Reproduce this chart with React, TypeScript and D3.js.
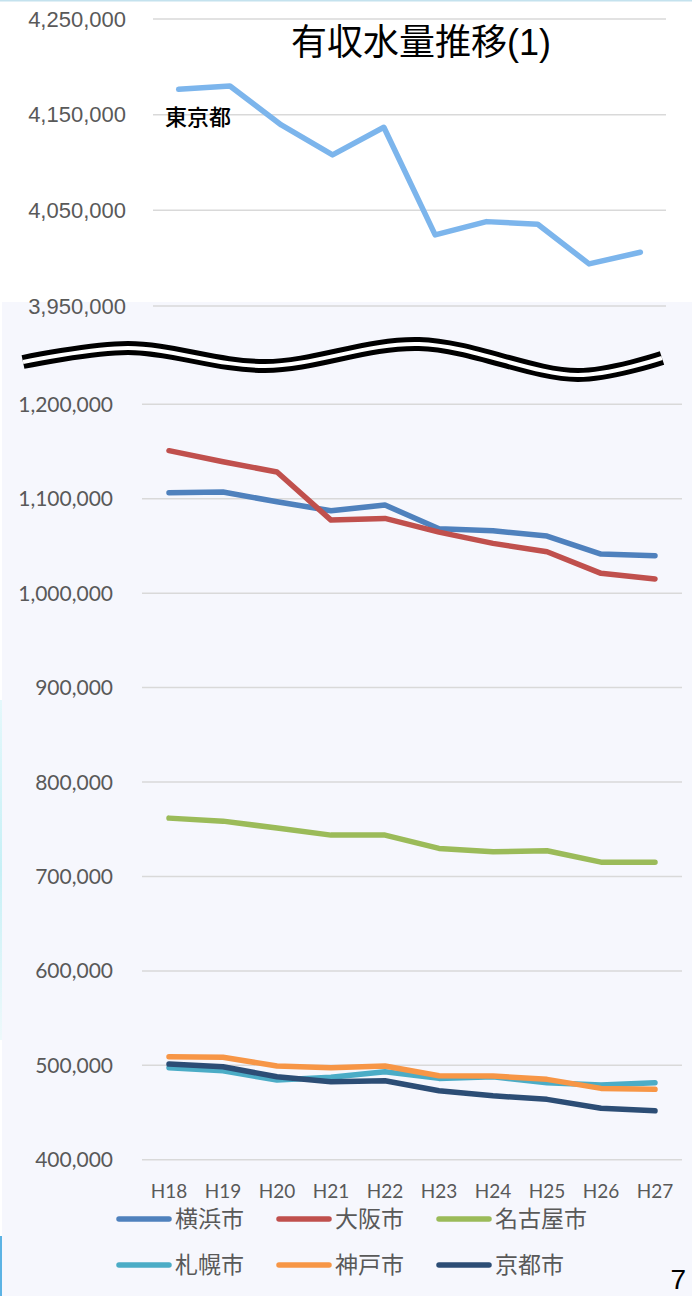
import React from "react";
import * as d3 from "d3";

const categories = ["H18", "H19", "H20", "H21", "H22", "H23", "H24", "H25", "H26", "H27"];

const tokyo = [4176500, 4180000, 4139200, 4107900, 4136800, 4024300, 4038200, 4035500, 3994000, 4006200];

const yokohama = [1106400, 1107100, 1096800, 1087300, 1093300, 1068200, 1066100, 1060500, 1041400, 1039600];
const osaka = [1150900, 1139200, 1128300, 1077400, 1079200, 1064700, 1052700, 1043900, 1021000, 1015000];
const nagoya = [761800, 758600, 751300, 743800, 743800, 729700, 726100, 727200, 715200, 715200];
const sapporo = [497500, 494300, 484400, 487300, 493200, 486200, 487900, 481600, 479100, 481600];
const kobe = [509100, 508500, 499300, 497500, 499300, 489000, 488700, 485200, 475600, 474600];
const kyoto = [501400, 498600, 487900, 482600, 483700, 473100, 467800, 464000, 454500, 451900];

const seriesNames = ["横浜市", "大阪市", "名古屋市", "札幌市", "神戸市", "京都市"];
const seriesValues = [yokohama, osaka, nagoya, sapporo, kobe, kyoto];
const seriesColors = ["#4f81bd", "#c0504d", "#9bbb59", "#4bacc6", "#f79646", "#2c4d75"];

const topTicks = [3950000, 4050000, 4150000, 4250000];
const bottomTicks = [400000, 500000, 600000, 700000, 800000, 900000, 1000000, 1100000, 1200000];

const title = "有収水量推移(1)";
const tokyoLabel = "東京都";
const pageNumber = "7";

// decorative break mark (wavy double line) path points
const breakPoints: [number, number][] = [
  [23, 362], [128, 348], [265, 366], [419, 344], [578, 375], [662, 358],
];

export default function App() {
  const W = 692;
  const H = 1296;
  const fmt = d3.format(",");

  const xTop = d3.scaleBand<string>().domain(categories).range([153, 666]);
  const yTop = d3.scaleLinear().domain([3950000, 4250000]).range([306, 19]);

  const xBot = d3.scaleBand<string>().domain(categories).range([142, 682]);
  const yBot = d3.scaleLinear().domain([400000, 1200000]).range([1159.8, 404.3]);

  const cxTop = (c: string) => (xTop(c) as number) + xTop.bandwidth() / 2;
  const cxBot = (c: string) => (xBot(c) as number) + xBot.bandwidth() / 2;

  const lineTop = d3
    .line<number>()
    .x((_, i) => cxTop(categories[i]))
    .y((d) => yTop(d));
  const lineBot = d3
    .line<number>()
    .x((_, i) => cxBot(categories[i]))
    .y((d) => yBot(d));

  const breakLine = d3.line().curve(d3.curveCatmullRom.alpha(0.5));
  const breakPath = breakLine(breakPoints) || "";

  const legendCols = [117, 277, 437];
  const legendRows = [1219, 1265];

  return (
    <svg
      width={W}
      height={H}
      viewBox={`0 0 ${W} ${H}`}
      style={{ position: "absolute", left: 0, top: 0, display: "block" }}
    >
      <defs>
        <linearGradient id="leftStrip" x1="0" y1="0" x2="0" y2="1">
          <stop offset="0" stopColor="#e4f8fb" />
          <stop offset="0.5" stopColor="#c6f0f6" />
          <stop offset="1" stopColor="#eef9fb" />
        </linearGradient>
      </defs>
      <rect x={0} y={0} width={W} height={H} fill="#ffffff" />
      <rect x={0} y={0} width={W} height={1.5} fill="#c4e2ee" />
      {/* lower panel background */}
      <rect x={2} y={302} width={W - 2} height={H - 302} fill="#f6f7fd" />
      <rect x={0} y={700} width={2} height={340} fill="url(#leftStrip)" />
      <rect x={0} y={1236} width={2} height={60} fill="#5cb3e4" />

      {/* Top chart gridlines */}
      {topTicks.map((t) => (
        <g key={"tt" + t}>
          <line x1={153} x2={666} y1={yTop(t)} y2={yTop(t)} stroke="#d9d9d9" strokeWidth={1.5} />
          <text
            x={126}
            y={yTop(t)}
            dy="0.35em"
            textAnchor="end"
            fontFamily="'Liberation Sans', Arial, sans-serif"
            fontSize={22}
            fill="#595959"
          >
            {fmt(t)}
          </text>
        </g>
      ))}

      <text
        x={421}
        y={55}
        textAnchor="middle"
        fontFamily="'Liberation Sans', 'Noto Sans CJK JP', sans-serif"
        fontSize={36}
        fill="#000"
      >
        {title}
      </text>

      <path
        d={lineTop(tokyo) || ""}
        fill="none"
        stroke="#7cb5ec"
        strokeWidth={5.5}
        strokeLinejoin="round"
        strokeLinecap="round"
      />
      <text
        x={165}
        y={117}
        dy="0.36em"
        fontFamily="'Noto Sans CJK JP', sans-serif"
        fontSize={22}
        fontWeight={500}
        fill="#000"
      >
        {tokyoLabel}
      </text>

      {/* break mark */}
      <path d={breakPath} fill="none" stroke="#000" strokeWidth={14} strokeLinecap="butt" />
      <path d={breakPath} fill="none" stroke="#ffffff" strokeWidth={4} strokeLinecap="butt" />

      {/* Bottom chart gridlines */}
      {bottomTicks.map((t) => (
        <g key={"bt" + t}>
          <line x1={142} x2={682} y1={yBot(t)} y2={yBot(t)} stroke="#d9d9d9" strokeWidth={1.5} />
          <text
            x={113}
            y={yBot(t)}
            dy="0.36em"
            textAnchor="end"
            fontFamily="Lato, sans-serif"
            fontSize={21}
            fill="#595959"
          >
            {fmt(t)}
          </text>
        </g>
      ))}

      {seriesValues.map((vals, i) => (
        <path
          key={"s" + i}
          d={lineBot(vals) || ""}
          fill="none"
          stroke={seriesColors[i]}
          strokeWidth={5.5}
          strokeLinejoin="round"
          strokeLinecap="round"
        />
      ))}

      {categories.map((c) => (
        <text
          key={"x" + c}
          x={cxBot(c)}
          y={1191}
          dy="0.36em"
          textAnchor="middle"
          fontFamily="Lato, sans-serif"
          fontSize={19}
          fill="#595959"
        >
          {c}
        </text>
      ))}

      {seriesNames.map((n, i) => {
        const x = legendCols[i % 3];
        const y = legendRows[Math.floor(i / 3)];
        return (
          <g key={"lg" + n}>
            <line
              x1={x + 2}
              x2={x + 52}
              y1={y}
              y2={y}
              stroke={seriesColors[i]}
              strokeWidth={5.5}
              strokeLinecap="round"
            />
            <text
              x={x + 58}
              y={y}
              dy="0.36em"
              fontFamily="'Noto Sans CJK JP', sans-serif"
              fontSize={23}
              fill="#595959"
            >
              {n}
            </text>
          </g>
        );
      })}

      <text
        x={686}
        y={1289}
        textAnchor="end"
        fontFamily="'Liberation Sans', Arial, sans-serif"
        fontSize={28}
        fill="#000"
      >
        {pageNumber}
      </text>
    </svg>
  );
}
